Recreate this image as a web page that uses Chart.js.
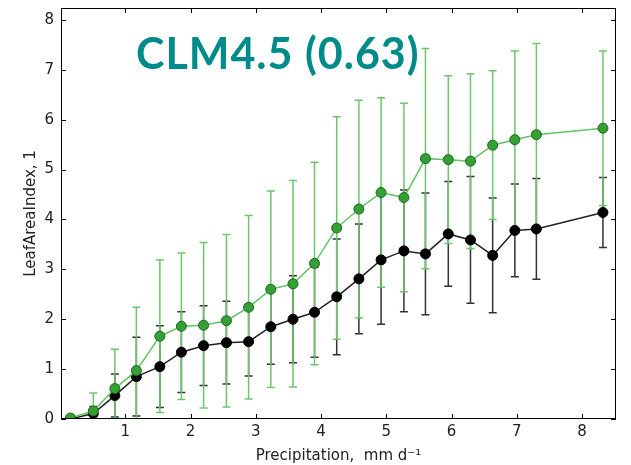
<!DOCTYPE html>
<html>
<head>
<meta charset="utf-8">
<script src="https://cdn.jsdelivr.net/npm/chart.js@4"></script>
<style>
  html, body { margin: 0; padding: 0; background: #fff; }
  #wrap { width: 631px; height: 465px; }
</style>
</head>
<body>
<div id="wrap"><canvas id="laiChart" width="631" height="465"></canvas></div>
<script>
// precipitation bins (mm/d)
const precip = [0.16, 0.51, 0.84, 1.17, 1.53, 1.86, 2.20, 2.55, 2.89, 3.23, 3.57, 3.90,
                4.24, 4.58, 4.92, 5.27, 5.60, 5.95, 6.29, 6.63, 6.97, 7.30, 8.32];

// green series (CLM4.5) mean and spread
const greenMean = [0.02, 0.16, 0.61, 0.97, 1.66, 1.86, 1.88, 1.97, 2.24, 2.60, 2.71, 3.12,
                   3.83, 4.21, 4.54, 4.44, 5.22, 5.20, 5.17, 5.49, 5.60, 5.70, 5.83];
const greenStd = [0.03, 0.36, 0.79, 1.27, 1.53, 1.47, 1.66, 1.73, 1.84, 1.97, 2.07, 2.03,
                  2.23, 2.18, 1.90, 1.89, 2.21, 1.68, 1.75, 1.49, 1.78, 1.83, 1.55];

// black series (observations) mean and spread
const blackMean = [0.00, 0.11, 0.47, 0.85, 1.05, 1.34, 1.47, 1.53, 1.55, 1.85, 2.00, 2.14,
                   2.45, 2.81, 3.19, 3.37, 3.31, 3.71, 3.59, 3.28, 3.78, 3.81, 4.14];
const blackStd = [0.02, 0.14, 0.43, 0.79, 0.82, 0.81, 0.80, 0.83, 0.69, 0.75, 0.87, 0.90,
                  1.16, 1.10, 1.29, 1.22, 1.22, 1.05, 1.27, 1.15, 0.93, 1.01, 0.70];

const xTicks = [1, 2, 3, 4, 5, 6, 7, 8];
const yTicks = [0, 1, 2, 3, 4, 5, 6, 7, 8];
const titleText = 'CLM4.5 (0.63)';

const toPoints = (ys) => precip.map((x, i) => ({ x: x, y: ys[i] }));

// error bars, drawn under the lines and markers
const errorBars = {
  id: 'errorBars',
  beforeDatasetsDraw(chart) {
    const { ctx, chartArea, scales: { x, y } } = chart;
    const sets = [
      { mean: blackMean, std: blackStd, color: '#333' },
      { mean: greenMean, std: greenStd, color: '#6cc66c' }
    ];
    ctx.save();
    ctx.beginPath();
    ctx.rect(chartArea.left, chartArea.top, chartArea.right - chartArea.left, chartArea.bottom - chartArea.top);
    ctx.clip();
    sets.forEach(s => {
      ctx.strokeStyle = s.color;
      ctx.lineWidth = 1.5;
      precip.forEach((px, i) => {
        const cx = x.getPixelForValue(px);
        const top = y.getPixelForValue(s.mean[i] + s.std[i]);
        const bot = y.getPixelForValue(s.mean[i] - s.std[i]);
        ctx.beginPath();
        ctx.moveTo(cx, top);
        ctx.lineTo(cx, bot);
        ctx.moveTo(cx - 4, top);
        ctx.lineTo(cx + 4, top);
        ctx.moveTo(cx - 4, bot);
        ctx.lineTo(cx + 4, bot);
        ctx.stroke();
      });
    });
    ctx.restore();
  }
};

// box, inward ticks on all four sides, and the title inside the axes
const frame = {
  id: 'frame',
  afterDraw(chart) {
    const { ctx, chartArea: a, scales: { x, y } } = chart;
    ctx.save();
    ctx.strokeStyle = '#000';
    ctx.lineWidth = 1;
    ctx.strokeRect(a.left + 0.5, a.top + 0.5, a.right - a.left - 1, a.bottom - a.top - 1);
    ctx.beginPath();
    xTicks.forEach(v => {
      const px = Math.round(x.getPixelForValue(v)) + 0.5;
      ctx.moveTo(px, a.bottom); ctx.lineTo(px, a.bottom - 5);
      ctx.moveTo(px, a.top); ctx.lineTo(px, a.top + 5);
    });
    yTicks.forEach(v => {
      const py = Math.round(y.getPixelForValue(v)) + 0.5;
      ctx.moveTo(a.left, py); ctx.lineTo(a.left + 5, py);
      ctx.moveTo(a.right, py); ctx.lineTo(a.right - 5, py);
    });
    ctx.stroke();

    ctx.fillStyle = '#008b8b';
    ctx.font = 'bold 43px Lato';
    ctx.letterSpacing = '1px';
    ctx.textBaseline = 'alphabetic';
    ctx.textAlign = 'left';
    ctx.fillText(titleText, 136, 69);
    ctx.restore();
  }
};

const ctx = document.getElementById('laiChart').getContext('2d');
const chart = new Chart(ctx, {
  type: 'scatter',
  data: {
    datasets: [
      {
        label: 'CLM4.5',
        data: toPoints(greenMean),
        showLine: true,
        borderColor: '#62c462',
        borderWidth: 1.5,
        pointBackgroundColor: '#35a035',
        pointBorderColor: '#1d661d',
        pointBorderWidth: 1,
        pointRadius: 5,
        order: 0
      },
      {
        label: 'Obs',
        data: toPoints(blackMean),
        showLine: true,
        borderColor: '#222',
        borderWidth: 1.5,
        pointBackgroundColor: '#000',
        pointBorderColor: '#000',
        pointBorderWidth: 1,
        pointRadius: 5,
        order: 1
      }
    ]
  },
  options: {
    responsive: false,
    animation: false,
    events: [],
    layout: { padding: { left: 20, right: 15, top: 8, bottom: 0 } },
    plugins: {
      legend: { display: false },
      tooltip: { enabled: false }
    },
    scales: {
      x: {
        type: 'linear',
        min: 0.015,
        max: 8.52,
        afterBuildTicks: s => { s.ticks = xTicks.map(v => ({ value: v })); },
        afterFit: s => { s.height = 46; s.paddingLeft = 0; s.paddingRight = 0; },
        grid: { display: false, drawTicks: false },
        border: { display: false },
        ticks: {
          color: '#222',
          padding: 4,
          maxRotation: 0,
          font: { family: 'DejaVu Sans', size: 15 }
        },
        title: {
          display: true,
          text: 'Precipitation,  mm d\u207B\u00B9',
          color: '#222',
          padding: { top: 2, bottom: 0 },
          font: { family: 'DejaVu Sans', size: 15 }
        }
      },
      y: {
        type: 'linear',
        min: 0,
        max: 8.24,
        afterBuildTicks: s => { s.ticks = yTicks.map(v => ({ value: v })); },
        afterFit: s => { s.width = 41; s.paddingTop = 0; s.paddingBottom = 0; },
        grid: { display: false, drawTicks: false },
        border: { display: false },
        ticks: {
          color: '#222',
          padding: 7,
          font: { family: 'DejaVu Sans', size: 15 }
        },
        title: {
          display: true,
          text: 'LeafAreaIndex, 1',
          color: '#222',
          padding: { top: 2, bottom: 0 },
          font: { family: 'DejaVu Sans', size: 15 }
        }
      }
    }
  },
  plugins: [errorBars, frame]
});
</script>
</body>
</html>
